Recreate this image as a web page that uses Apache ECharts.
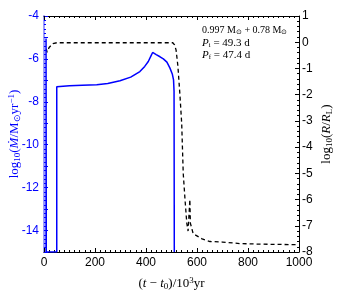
<!DOCTYPE html>
<html><head><meta charset="utf-8">
<script src="https://cdn.jsdelivr.net/npm/echarts@6/dist/echarts.min.js"></script>
<style>html,body{margin:0;padding:0;background:#fff}#c{width:338px;height:290px}</style>
</head><body><div id="c"></div>
<script>
// Mass-transfer rate (left axis), [t (10^3 yr), log10 Mdot]
var mdotT = [8, 8, 9, 50, 50, 55, 100, 150, 207, 250, 298, 340, 376, 395, 409, 420, 426, 440, 455, 468, 482, 494, 503, 508, 510, 511];
var mdotV = [-15, -5.05, -15, -15, -7.3, -7.28, -7.25, -7.23, -7.21, -7.15, -7.02, -6.85, -6.59, -6.35, -6.12, -5.85, -5.7, -5.8, -5.9, -6.0, -6.15, -6.43, -6.7, -6.98, -7.5, -15];
// Radius over Roche-lobe radius (right axis), [t, log10 R/RL]
var rT = [9, 12, 20, 35, 50, 200, 400, 505, 512, 518, 525, 533, 540, 546, 553, 560, 565, 570, 572, 574, 585, 620, 651, 700, 769, 850, 991];
var rV = [-0.25, -0.38, -0.2, -0.05, -0.02, -0.02, -0.02, -0.02, -0.1, -0.3, -0.9, -2.0, -3.1, -5.0, -6.0, -6.9, -7.2, -7.2, -6.0, -6.9, -7.3, -7.5, -7.6, -7.62, -7.68, -7.7, -7.72];
var xTicks = [0, 200, 400, 600, 800, 1000];
var leftTicks = [-14, -12, -10, -8, -6, -4];
var rightTicks = [-8, -7, -6, -5, -4, -3, -2, -1, 0, 1];
var annot = ['0.997 M⊙ + 0.78 M⊙', 'P|i|49.3 d', 'P|f|47.4 d'];

function zip(a, b) { return a.map(function (v, i) { return [v, b[i]]; }); }
var chart = echarts.init(document.getElementById('c'));
var tickFont = {fontFamily: 'Liberation Sans', fontSize: 12};
var serif = 'Liberation Serif';
function pLine(s) { var p = s.split('|'); return '{it|' + p[0] + '}{sub|' + p[1] + '}{n| = ' + p[2] + '}'; }
chart.setOption({
  animation: false,
  grid: {left: 44, right: 39, top: 16, bottom: 38, containLabel: false, outerBoundsMode: 'none'},
  xAxis: [{
    type: 'value', min: 0, max: 1000, interval: 200, position: 'bottom', nameMoveOverlap: false,
    axisLine: {onZero: false, lineStyle: {color: '#000', width: 1}},
    axisTick: {inside: true, length: 4, lineStyle: {color: '#000'}},
    minorTick: {show: true, splitNumber: 10, length: 2, lineStyle: {color: '#000'}},
    splitLine: {show: false},
    axisLabel: Object.assign({color: '#000', margin: 5, formatter: function (v) { return xTicks.indexOf(v) >= 0 ? String(v) : ''; }}, tickFont),
    name: '{n|(}{it|t}{n| − }{it|t}{sub|0}{n|)/10}{sup|3}{n|yr}', nameLocation: 'middle', nameGap: 24,
    nameTextStyle: {rich: {
      n: {fontFamily: serif, fontSize: 13, color: '#000'},
      it: {fontFamily: serif, fontSize: 13, fontStyle: 'italic', color: '#000'},
      sub: {fontFamily: serif, fontSize: 9, color: '#000', verticalAlign: 'bottom', padding: [6, 0, 0, 0]},
      sup: {fontFamily: serif, fontSize: 9, color: '#000', verticalAlign: 'top', padding: [0, 0, 6, 0]}
    }}
  }, {
    type: 'value', min: 0, max: 1000, interval: 200, position: 'top',
    axisLine: {show: true, onZero: false, lineStyle: {color: '#000', width: 1}},
    axisTick: {show: true, inside: true, length: 4, lineStyle: {color: '#000'}},
    minorTick: {show: true, splitNumber: 10, length: 2, lineStyle: {color: '#000'}},
    splitLine: {show: false}, axisLabel: {show: false}
  }],
  yAxis: [{
    type: 'value', min: -15, max: -4, interval: 1, position: 'left', nameMoveOverlap: false,
    axisLine: {show: true, onZero: false, lineStyle: {color: '#9a9aff', width: 2}},
    axisTick: {inside: true, length: 4, lineStyle: {color: '#0000ff'}},
    minorTick: {show: true, splitNumber: 5, length: 2, lineStyle: {color: '#0000ff'}},
    splitLine: {show: false},
    axisLabel: Object.assign({color: '#0000ff', margin: 5, formatter: function (v) { return leftTicks.indexOf(v) >= 0 ? String(v) : ''; }}, tickFont),
    name: '{n|log}{sub|10}{n|(}{it|Ṁ}{n|/M}{sub|⊙}{n|yr}{sup|−1}{n|)}', nameLocation: 'middle', nameGap: 22, nameRotate: 90,
    nameTextStyle: {rich: {
      n: {fontFamily: serif, fontSize: 13, color: '#0000ff'},
      it: {fontFamily: serif, fontSize: 13, fontStyle: 'italic', color: '#0000ff'},
      sub: {fontFamily: serif, fontSize: 9, color: '#0000ff', verticalAlign: 'bottom', padding: [6, 0, 0, 0]},
      sup: {fontFamily: serif, fontSize: 9, color: '#0000ff', verticalAlign: 'top', padding: [0, 0, 6, 0]}
    }}
  }, {
    type: 'value', min: -8, max: 1, interval: 1, position: 'right', nameMoveOverlap: false,
    axisLine: {show: true, onZero: false, lineStyle: {color: '#000', width: 1}},
    axisTick: {show: true, inside: true, length: 4, lineStyle: {color: '#000'}},
    minorTick: {show: true, splitNumber: 5, length: 2, lineStyle: {color: '#000'}},
    splitLine: {show: false},
    axisLabel: Object.assign({color: '#000', margin: 3, formatter: function (v) { return rightTicks.indexOf(v) >= 0 ? String(v) : ''; }}, tickFont),
    name: '{n|log}{sub|10}{n|(}{it|R}{n|/}{it|R}{sub|L}{n|)}', nameLocation: 'middle', nameGap: 20, nameRotate: 90,
    nameTextStyle: {rich: {
      n: {fontFamily: serif, fontSize: 13, color: '#000'},
      it: {fontFamily: serif, fontSize: 13, fontStyle: 'italic', color: '#000'},
      sub: {fontFamily: serif, fontSize: 9, color: '#000', verticalAlign: 'bottom', padding: [6, 0, 0, 0]}
    }}
  }],
  series: [{
    type: 'line', xAxisIndex: 0, yAxisIndex: 0, data: zip(mdotT, mdotV), showSymbol: false, symbol: 'none',
    lineStyle: {color: '#0000ff', width: 1.5}, clip: true, z: 3
  }, {
    type: 'line', xAxisIndex: 0, yAxisIndex: 1, data: zip(rT, rV), showSymbol: false, symbol: 'none',
    lineStyle: {color: '#000', width: 1.3, type: [4, 3]}, clip: true, z: 2
  }],
  graphic: annot.map(function (s, i) {
    var txt = i === 0 ? '{n|0.997 M}{sub|⊙}{n| + 0.78 M}{sub|⊙}' : pLine(s);
    return {type: 'text', left: 202, top: 25 + i * 12.5, style: {text: txt, rich: {
      n: {fontFamily: serif, fontSize: i === 0 ? 10 : 11, fill: '#000'},
      it: {fontFamily: serif, fontSize: 11, fontStyle: 'italic', fill: '#000'},
      sub: {fontFamily: serif, fontSize: 7, fill: '#000', verticalAlign: 'bottom', padding: [4, 0, 0, 0]}
    }}};
  })
});
</script></body></html>
